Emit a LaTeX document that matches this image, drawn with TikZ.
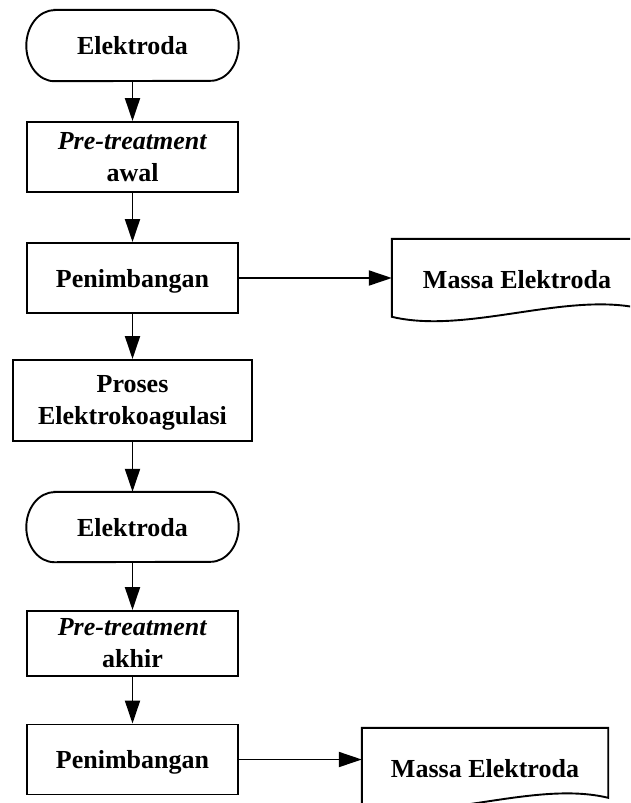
\documentclass[tikz,border=0pt]{standalone}
\usepackage{fontspec}
\setmainfont{Liberation Serif}
\usetikzlibrary{arrows.meta,calc}
\newcommand\termoutline[2]{%
  \draw[outline] ([xshift=28pt]#1.north west) -- ([xshift=-28pt]#1.north east)
    arc[start angle=90,end angle=-90,x radius=28pt,y radius=#2]
    -- ([xshift=28pt]#1.south west)
    arc[start angle=270,end angle=90,x radius=28pt,y radius=#2] -- cycle;}
\newcommand\docoutline[1]{%
  \draw[outline] ($(#1.north west)+(0,78)$) -- (#1.north west) -- (#1.north east)
    -- ($(#1.north east)+(0,70)$)
    .. controls ($(#1.north west)!0.7!(#1.north east)+(0,52)$)
       and ($(#1.north west)!0.3!(#1.north east)+(0,96)$)
    .. ($(#1.north west)+(0,78)$) -- cycle;}
\begin{document}
\begin{tikzpicture}[x=1pt,y=-1pt,
  every node/.style={font=\fontsize{26pt}{32pt}\selectfont\bfseries, align=center, inner sep=0pt},
  procbox/.style={draw, line width=1.9pt, minimum width=211pt, minimum height=70pt},
  termnode/.style={minimum width=212pt, minimum height=71pt},
  docnode/.style={minimum height=80pt},
  link/.style={line width=1.9pt, -{Triangle[length=23pt,width=15pt]}},
  outline/.style={line width=1.9pt}
]
\useasboundingbox (0,0) rectangle (630,803);
\clip (0,0) rectangle (630,803);

\node[termnode, text depth=0pt] (t1) at (132.5,45.5) {Elektroda};
\node[procbox] (a1) at (132.5,157) {\textit{Pre-treatment}\\awal};
\node[procbox, text depth=0pt] (p1) at (132.5,278) {Penimbangan};
\node[procbox, minimum width=239pt, minimum height=81pt] (k) at (132.5,400.5) {Proses\\Elektrokoa\smash{g}ulasi};
\node[termnode, minimum height=70pt, text depth=0pt] (t2) at (132.5,527) {Elektroda};
\node[procbox, minimum height=65pt] (a2) at (132.5,643.5) {\textit{Pre-treatment}\\akhir};
\node[procbox, text depth=0pt] (p2) at (132.5,759.5) {Penimbangan};
\node[docnode, minimum width=250pt, text depth=0pt] (m1) at (517,279) {Massa Elektroda};
\node[docnode, minimum width=246pt, text depth=0pt] (m2) at (485,768) {Massa Elektroda};

\termoutline{t1}{35.5pt}
\termoutline{t2}{35pt}
\docoutline{m1}
\docoutline{m2}

\draw[link] (t1) -- (a1);
\draw[link] (a1) -- (p1);
\draw[link] (p1) -- (k);
\draw[link] (k) -- (t2);
\draw[link] (t2) -- (a2);
\draw[link] (a2) -- (p2);
\draw[link] (p1.east) -- (p1.east -| m1.west);
\draw[link] (p2.east) -- (p2.east -| m2.west);
\end{tikzpicture}
\end{document}
